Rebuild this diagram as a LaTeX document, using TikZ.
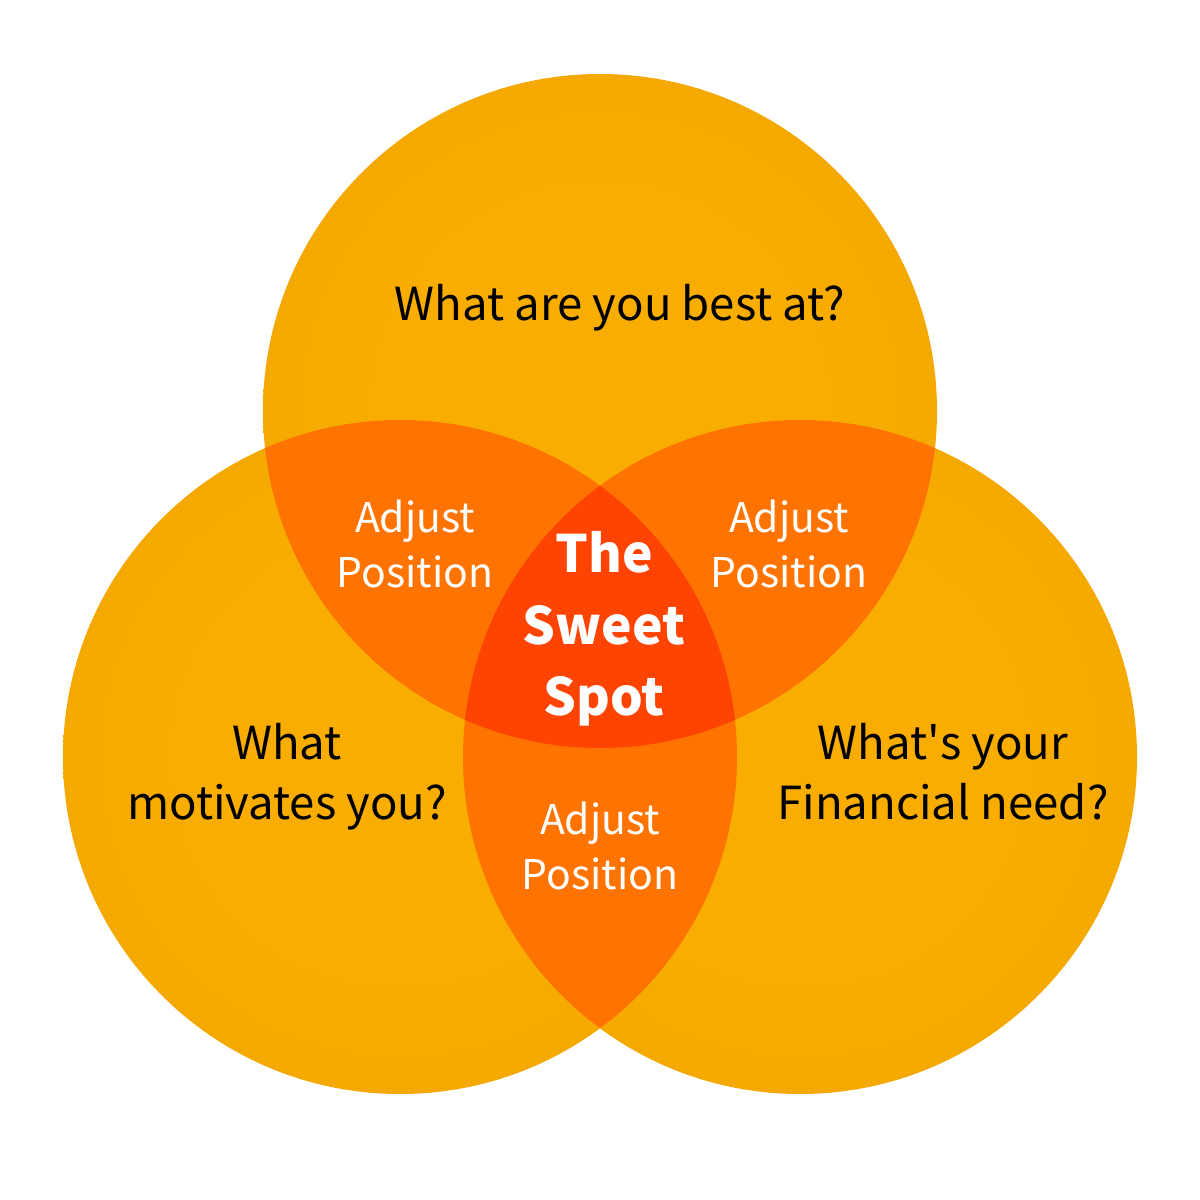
\documentclass[tikz,border=0pt]{standalone}
\usepackage{fontspec}
\setmainfont{Noto Sans CJK SC}
\definecolor{orbin}{HTML}{F9AD00}
\definecolor{orbmid}{HTML}{EFA500}
\definecolor{orbout}{HTML}{D28E00}
\definecolor{pairc}{HTML}{FF7300}
\definecolor{triplec}{HTML}{FF4300}
\pgfdeclareradialshading{orb}{\pgfpoint{0bp}{0bp}}{color(0bp)=(orbin); color(16bp)=(orbin); color(36bp)=(orbmid); color(50bp)=(orbout)}
\tikzset{
  orbfill/.style={shading=orb},
  qtext/.style={align=center, text=black, font=\fontsize{12.9}{17}\selectfont, inner sep=0pt},
  adjtext/.style={align=center, text=white, font=\fontsize{11.6}{15.4}\selectfont, inner sep=0pt},
  sweettext/.style={align=center, text=white, font=\bfseries\fontsize{14.6}{20.3}\selectfont, inner sep=0pt}
}
\begin{document}
\begin{tikzpicture}[x=0.2835pt,y=0.2835pt]
\useasboundingbox (0,0) rectangle (1200,-1200);
\fill[white] (0,0) rectangle (1200,-1200);
\def\R{337}
\coordinate (T) at (600,-411);
\coordinate (L) at (400,-757);
\coordinate (Rc) at (800,-757);
% circles
\shade[orbfill] (T) circle (\R);
\shade[orbfill] (L) circle (\R);
\shade[orbfill] (Rc) circle (\R);
% pairwise overlaps
\begin{scope}
  \clip (T) circle (\R);
  \fill[pairc] (L) circle (\R);
  \fill[pairc] (Rc) circle (\R);
\end{scope}
\begin{scope}
  \clip (L) circle (\R);
  \fill[pairc] (Rc) circle (\R);
\end{scope}
% triple overlap
\begin{scope}
  \clip (T) circle (\R);
  \clip (L) circle (\R);
  \fill[triplec] (Rc) circle (\R);
\end{scope}
% texts
\node[qtext] (best) at (620,-308) {What are you best at?};
\node[qtext] (motiv) at (287,-777) {What\\motivates you?};
\node[qtext] (fin) at (943,-772) {What\textquotesingle s your\\Financial need?};
\node[adjtext] (adjL) at (415,-544) {Adjust\\Position};
\node[adjtext] (adjR) at (789,-544) {Adjust\\Position};
\node[adjtext] (adjB) at (600,-846) {Adjust\\Position};
\node[sweettext] (sweet) at (604,-629) {The\\Sweet\\Spot};
\end{tikzpicture}
\end{document}
